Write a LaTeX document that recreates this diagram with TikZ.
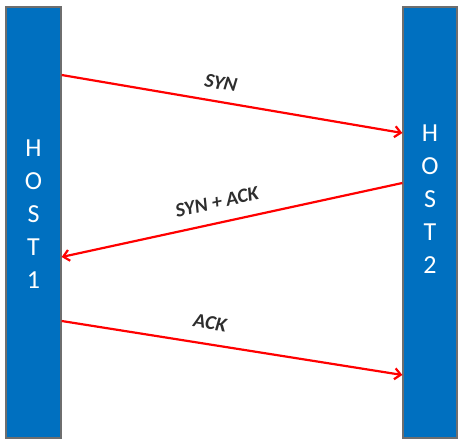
\documentclass[tikz,border=0pt]{standalone}
\usepackage{fontspec}
\setmainfont{Carlito}
\usetikzlibrary{arrows.meta}
\definecolor{barblue}{HTML}{0070C0}
\definecolor{bargray}{HTML}{6E6E6E}
\definecolor{lbl}{HTML}{2E2E2E}
\tikzset{
  host/.style={draw=bargray, line width=1.3pt, fill=barblue, minimum height=431pt, inner sep=0pt},
  hosttext/.style={text=white, font=\fontsize{26}{33}\selectfont, align=center, inner sep=0pt},
  msg/.style={draw=red, line width=2.2pt, -{Straight Barb[length=6pt,width=11pt,line width=2.2pt]}},
  msglabel/.style={text=lbl, font=\fontsize{20}{22}\selectfont\bfseries\itshape, inner sep=0pt}
}
\begin{document}
\begin{tikzpicture}[x=1pt,y=1pt]
\useasboundingbox (0,0) rectangle (464,444);
\node[host, minimum width=55pt] (h1) at (33.5,221.5) {};
\node[host, minimum width=54pt] (h2) at (430,221.5) {};
\node[hosttext] (t1) at (33.5,230) {H\\O\\S\\T\\1};
\node[hosttext] (t2) at (430,245) {H\\O\\S\\T\\2};
\coordinate (a1s) at (h1.east |- 0,369);
\coordinate (a1e) at (h2.west |- 0,311);
\coordinate (a2s) at (h2.west |- 0,261);
\coordinate (a2e) at (h1.east |- 0,187);
\coordinate (a3s) at (h1.east |- 0,123);
\coordinate (a3e) at (h2.west |- 0,69);
\draw[msg] (a1s) -- (a1e);
\draw[msg] (a2s) -- (a2e);
\draw[msg] (a3s) -- (a3e);
\node[msglabel, rotate=-9.6] (l1) at (221,361) {SYN};
\node[msglabel, rotate=12.5] (l2) at (217,242) {SYN + ACK};
\node[msglabel, rotate=-9] (l3) at (210,121) {ACK};
\end{tikzpicture}
\end{document}
